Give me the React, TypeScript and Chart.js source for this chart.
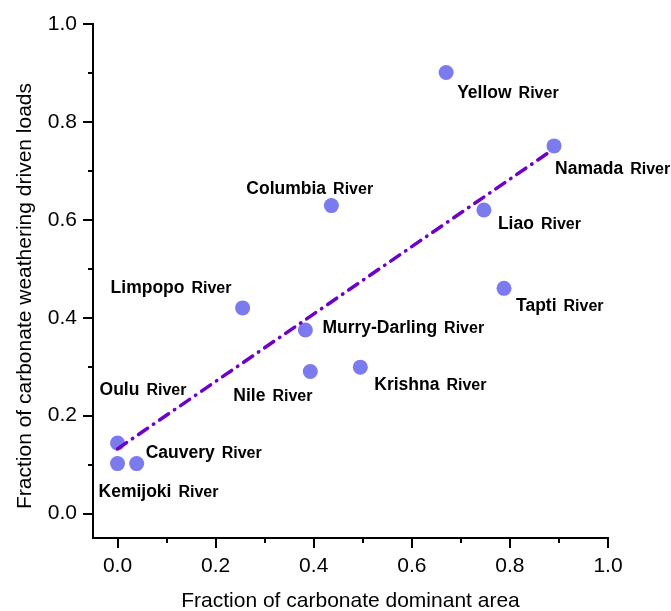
import React, { useEffect, useRef } from 'react';
import { Chart, registerables } from 'chart.js';

Chart.register(...registerables);

// ---- data ----
const rivers = ['Yellow', 'Namada', 'Columbia', 'Liao', 'Tapti', 'Limpopo', 'Murry-Darling', 'Nile', 'Krishna', 'Oulu', 'Cauvery', 'Kemijoki'];
const carbonateArea = [0.670, 0.890, 0.436, 0.747, 0.788, 0.255, 0.383, 0.393, 0.495, 0.0, 0.039, 0.0];
const weatheringLoads = [0.901, 0.751, 0.629, 0.620, 0.460, 0.420, 0.375, 0.290, 0.299, 0.144, 0.102, 0.102];
const trendX = [0, 0.887];
const trendY = [0.132, 0.743];
const tickValues = [0, 0.2, 0.4, 0.6, 0.8, 1.0];
const minorTickValues = [0.1, 0.3, 0.5, 0.7, 0.9];
const xTitle = 'Fraction of carbonate dominant area';
const yTitle = 'Fraction of carbonate weathering driven loads';
const suffix = 'River';

// label placement (pixel offsets from each point: text start, baseline)
const labelOffsets: [number, number][] = [
  [11, 26], [1, 28], [-85, -12], [14, 19], [12, 23], [-132, -15],
  [17, 3], [-77, 29], [14, 23], [-18, -48], [9, -6], [-19, 33],
];

const FONT = '"Liberation Sans", Arial, sans-serif';

const decor = {
  id: 'decor',
  afterDraw(chart: any) {
    const ctx = chart.ctx as CanvasRenderingContext2D;
    const xs = chart.scales.x;
    const ys = chart.scales.y;
    const area = chart.chartArea;
    ctx.save();
    // point labels
    const meta = chart.getDatasetMeta(1);
    ctx.fillStyle = '#000';
    ctx.textAlign = 'left';
    ctx.textBaseline = 'alphabetic';
    rivers.forEach((name, i) => {
      const el = meta.data[i];
      if (!el) return;
      const [dx, dy] = labelOffsets[i];
      const x0 = el.x + dx;
      const y0 = el.y + dy;
      ctx.font = `bold 17.5px ${FONT}`;
      ctx.fillText(name, x0, y0);
      const w = ctx.measureText(name).width;
      ctx.font = `bold 16px ${FONT}`;
      ctx.fillText(suffix, x0 + w + 7, y0);
    });
    // tick marks (major + minor, outward)
    ctx.strokeStyle = '#000';
    ctx.lineWidth = 2;
    const left = area.left;
    const bottom = area.bottom;
    const tick = (v: number, len: number) => {
      const py = Math.round(ys.getPixelForValue(v));
      ctx.beginPath();
      ctx.moveTo(left, py);
      ctx.lineTo(left - len, py);
      ctx.stroke();
      const px = Math.round(xs.getPixelForValue(v));
      ctx.beginPath();
      ctx.moveTo(px, bottom);
      ctx.lineTo(px, bottom + len);
      ctx.stroke();
    };
    tickValues.forEach((v) => tick(v, 10));
    minorTickValues.forEach((v) => tick(v, 5));
    // y title
    ctx.font = `21px ${FONT}`;
    ctx.fillStyle = '#000';
    ctx.textAlign = 'center';
    ctx.textBaseline = 'middle';
    ctx.translate(25, (area.top + area.bottom) / 2 + 15);
    ctx.rotate(-Math.PI / 2);
    ctx.fillText(yTitle, 0, 0);
    ctx.restore();
  },
};

export default function App() {
  const ref = useRef<HTMLCanvasElement | null>(null);
  useEffect(() => {
    document.body.style.margin = '0';
    if (!ref.current) return;
    const chart = new Chart(ref.current, {
      type: 'scatter',
      data: {
        datasets: [
          {
            label: 'trend',
            data: trendX.map((x, i) => ({ x, y: trendY[i] })),
            showLine: true,
            borderColor: '#6e00c8',
            borderWidth: 3.5,
            borderDash: [11, 7, 0.5, 7],
            borderCapStyle: 'round',
            pointRadius: 0,
            fill: false,
          } as any,
          {
            label: 'rivers',
            data: carbonateArea.map((x, i) => ({ x, y: weatheringLoads[i] })),
            backgroundColor: '#7b7bef',
            borderWidth: 0,
            pointRadius: 7.5,
          },
        ],
      },
      options: {
        responsive: false,
        animation: false,
        devicePixelRatio: 1,
        layout: { padding: { top: 24, right: 63, left: 0, bottom: 0 } },
        plugins: { legend: { display: false }, tooltip: { enabled: false } },
        scales: {
          x: {
            type: 'linear',
            min: -0.05,
            max: 1.0,
            afterBuildTicks: (s: any) => { s.ticks = tickValues.map((v) => ({ value: v })); },
            afterFit: (s: any) => { s.height = 73; s.paddingLeft = 0; s.paddingRight = 0; },
            grid: { display: false, drawTicks: false },
            border: { display: true, color: '#000', width: 2 },
            ticks: { color: '#000', font: { family: FONT, size: 21 }, padding: 16, callback: (v: any) => Number(v).toFixed(1) },
            title: { display: true, text: xTitle, color: '#000', font: { family: FONT, size: 21, lineHeight: 1 }, padding: { top: 0, bottom: -1 } },
          },
          y: {
            type: 'linear',
            min: -0.05,
            max: 1.0,
            afterBuildTicks: (s: any) => { s.ticks = tickValues.map((v) => ({ value: v })); },
            afterFit: (s: any) => { s.width = 93; s.paddingTop = 0; s.paddingBottom = 0; },
            grid: { display: false, drawTicks: false },
            border: { display: true, color: '#000', width: 2 },
            ticks: { color: '#000', font: { family: FONT, size: 21 }, padding: 16, callback: (v: any) => Number(v).toFixed(1) },
          },
        },
      },
      plugins: [decor],
    } as any);
    return () => chart.destroy();
  }, []);
  return (
    <div style={{ position: 'absolute', left: 0, top: 0 }}>
      <canvas ref={ref} width={671} height={611} />
    </div>
  );
}
